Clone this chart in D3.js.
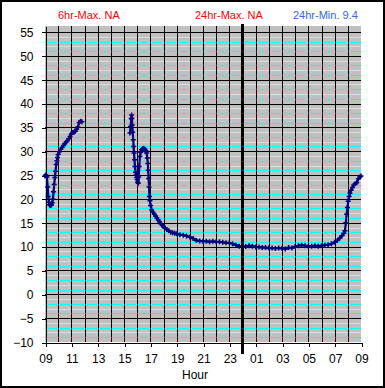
<!DOCTYPE html>
<html>
<head>
<meta charset="utf-8">
<script src="https://cdn.jsdelivr.net/npm/d3@7"></script>
<style>
body { margin: 0; background: #fff; }
svg { display: block; font-family: "Liberation Sans", Arial, sans-serif; }
</style>
</head>
<body>
<svg id="chart" width="385" height="388"></svg>
<script>
// hours counted from 09:00 of day one (24 = midnight, 33 = 09:00 next day)
const hours = [
    9.00, 9.05, 9.10, 9.15, 9.20, 9.25, 9.30, 9.35, 9.40, 9.45, 9.50, 9.55, 9.60, 9.65,
    9.70, 9.75, 9.80, 9.85, 9.90, 9.95, 10.0, 10.1, 10.2, 10.3, 10.4, 10.5, 10.6, 10.7,
    10.8, 10.9, 11.0, 11.1, 11.2, 11.3, 11.4, 11.5, 11.6, 11.7, 11.8,
    13.6,
    15.45, 15.50, 15.55, 15.58, 15.60, 15.63, 15.66, 15.70, 15.73, 15.76, 15.80, 15.83,
    15.88, 15.92, 15.96, 16.00, 16.04, 16.08, 16.12, 16.16, 16.21, 16.27, 16.34, 16.42,
    16.50, 16.59, 16.66, 16.72, 16.77, 16.81, 16.84, 16.87, 16.90, 16.93, 16.97, 17.02,
    17.10, 17.20, 17.30, 17.40, 17.50, 17.60, 17.70, 17.80, 17.90, 18.00, 18.10, 18.25,
    18.40, 18.55, 18.70, 18.85, 19.00, 19.25, 19.50, 19.75, 20.00, 20.25, 20.50, 20.75,
    21.00, 21.25, 21.50, 21.75, 22.00, 22.25, 22.50, 22.75, 23.00, 23.25, 23.50, 23.75,
    24.00, 24.25, 24.50, 24.75, 25.00, 25.25, 25.50, 25.75, 26.00, 26.25, 26.50, 26.75,
    27.00, 27.25, 27.50, 27.75, 28.00, 28.25, 28.50, 28.75, 29.00, 29.25, 29.50, 29.75,
    30.00, 30.25, 30.50, 30.75, 31.00, 31.20, 31.40, 31.55, 31.70, 31.78, 31.85, 31.91,
    31.97, 32.03, 32.10, 32.16, 32.25, 32.35, 32.45, 32.55, 32.67, 32.80, 32.92, 33.00
];
const temps = [
    24.8, 25.0, 24.9, 24.6, 22.5, 20.5, 19.3, 18.8, 18.6, 18.7, 18.8, 19.2, 20.0, 21.5,
    23.0, 24.5, 25.8, 27.2, 28.0, 28.7, 29.3, 29.9, 30.4, 30.8, 31.2, 31.6, 31.9, 32.2,
    32.6, 33.1, 33.6, 33.9, 34.0, 34.2, 34.6, 35.1, 36.0, 36.3, 36.2,
    null,
    33.8, 35.2, 36.8, 37.6, 36.9, 35.5, 34.0, 32.4, 31.0, 29.6, 28.2, 26.8,
    25.6, 25.0, 24.5, 24.0, 23.5, 23.3, 24.6, 26.8, 28.9, 29.8, 30.3, 30.5,
    30.6, 30.4, 30.1, 29.6, 28.6, 27.4, 26.0, 24.3, 22.5, 20.5, 19.6, 18.6,
    17.7, 17.2, 16.8, 16.4, 16.0, 15.6, 15.2, 14.8, 14.5, 14.2, 13.9, 13.6,
    13.3, 13.0, 12.9, 12.8, 12.7, 12.5, 12.4, 12.2, 12.0, 11.7, 11.3, 11.2,
    11.1, 11.1, 11.0, 11.1, 11.0, 11.0, 10.9, 10.8, 10.8, 10.6, 10.3, 10.1,
    10.0, 10.0, 10.2, 10.1, 9.9, 9.9, 9.8, 9.8, 9.7, 9.7, 9.6, 9.7,
    9.6, 9.5, 9.8, 9.7, 10.0, 10.2, 10.3, 10.2, 10.1, 10.1, 10.2, 10.1,
    10.2, 10.3, 10.4, 10.6, 10.9, 11.3, 11.8, 12.3, 12.8, 13.3, 15.0, 16.8,
    18.2, 19.5, 20.5, 21.2, 21.8, 22.4, 22.9, 23.2, 23.4, 24.2, 24.6, 24.8
];

const yTicks = [-10, -5, 0, 5, 10, 15, 20, 25, 30, 35, 40, 45, 50, 55];
const xTickHours = [9, 11, 13, 15, 17, 19, 21, 23, 25, 27, 29, 31, 33];
const xTickLabels = ['09', '11', '13', '15', '17', '19', '21', '23', '01', '03', '05', '07', '09'];
const headerTexts = ['6hr-Max. NA', '24hr-Max. NA', '24hr-Min. 9.4'];
const midnight = 24;

const plotLeft = 45, plotRight = 361, plotTop = 26, plotBottom = 342;
const navy = '#000080';

const svg = d3.select('#chart');
const x = d3.scaleLinear().domain([9, 33]).range([plotLeft, plotRight]);
const y = d3.scaleLinear().domain([-10, 56.25]).range([plotBottom, plotTop]);

svg.append('rect')
    .attr('x', 0).attr('y', 0)
    .attr('width', 385).attr('height', 388)
    .style('fill', '#fff');

// plot background
svg.append('rect')
    .attr('x', plotLeft)
    .attr('y', plotTop)
    .attr('width', plotRight - plotLeft)
    .attr('height', plotBottom - plotTop)
    .style('fill', '#c0c0c0');

// minor gridlines, alternate light grey / cyan
let minor = d3.range(-9, 56).filter(v => v % 5 != 0);
svg.append('g')
    .selectAll('line')
    .data(minor)
    .enter()
    .append('line')
    .attr('x1', plotLeft).attr('x2', plotRight)
    .attr('y1', d => Math.round(y(d)) + 0.5)
    .attr('y2', d => Math.round(y(d)) + 0.5)
    .style('stroke', d => ((d % 5) + 5) % 5 % 2 == 0 ? '#dcdcdc' : '#00ffff')
    .style('stroke-width', 1);

// hourly verticals
svg.append('g')
    .selectAll('line')
    .data(d3.range(10, 33))
    .enter()
    .append('line')
    .attr('x1', d => Math.round(x(d)) + 0.5)
    .attr('x2', d => Math.round(x(d)) + 0.5)
    .attr('y1', plotTop).attr('y2', plotBottom)
    .style('stroke', '#000')
    .style('stroke-width', 1);

// major horizontals
svg.append('g')
    .selectAll('line')
    .data(yTicks.slice(1))
    .enter()
    .append('line')
    .attr('x1', plotLeft).attr('x2', plotRight)
    .attr('y1', d => Math.round(y(d)) + 0.5)
    .attr('y2', d => Math.round(y(d)) + 0.5)
    .style('stroke', '#000')
    .style('stroke-width', 1);

// axes
let yAxis = svg.append('g')
    .attr('transform', `translate(${plotLeft + 0.5},0.5)`)
    .call(d3.axisLeft(y).tickValues(yTicks).tickSize(4).tickSizeOuter(0).tickPadding(8));
let xAxis = svg.append('g')
    .attr('transform', `translate(0.5,${plotBottom + 0.5})`)
    .call(d3.axisBottom(x).tickValues(xTickHours)
        .tickFormat((_, i) => xTickLabels[i])
        .tickSize(4).tickSizeOuter(0).tickPadding(8));
svg.selectAll('.domain, .tick line')
    .style('stroke', '#000')
    .attr('shape-rendering', 'crispEdges');
svg.selectAll('.tick text')
    .style('font-size', '12px')
    .style('fill', '#000');

// temperature trace
let pts = d3.map(hours, (h, i) => [h, temps[i]]);
let line = d3.line()
    .defined(d => d[1] != null)
    .x(d => x(d[0]))
    .y(d => y(d[1]));
svg.append('path')
    .datum(pts)
    .attr('d', line)
    .style('fill', 'none')
    .style('stroke', navy)
    .style('stroke-width', 2.2);
svg.append('g')
    .selectAll('path')
    .data(pts.filter(d => d[1] != null))
    .enter()
    .append('path')
    .attr('transform', d => `translate(${x(d[0])},${y(d[1])})`)
    .attr('d', 'M-2.5,0H2.5M0,-2.5V2.5')
    .style('stroke', navy)
    .style('stroke-width', 1.5);

// midnight marker
svg.append('line')
    .attr('x1', x(midnight)).attr('x2', x(midnight))
    .attr('y1', 24).attr('y2', 354)
    .style('stroke', '#000')
    .style('stroke-width', 3);

// header
svg.append('g')
    .selectAll('text')
    .data(headerTexts)
    .enter()
    .append('text')
    .attr('x', (_, i) => [58, 195, 293][i])
    .attr('y', 19)
    .style('font-size', '11px')
    .style('fill', (_, i) => i < 2 ? '#ff0000' : '#3366ff')
    .text(d => d);

svg.append('text')
    .attr('x', 195)
    .attr('y', 379)
    .attr('text-anchor', 'middle')
    .style('font-size', '12px')
    .text('Hour');

// outer frame
svg.append('rect')
    .attr('x', 1).attr('y', 1)
    .attr('width', 383).attr('height', 386)
    .style('fill', 'none')
    .style('stroke', '#000')
    .style('stroke-width', 2);
</script>
</body>
</html>
